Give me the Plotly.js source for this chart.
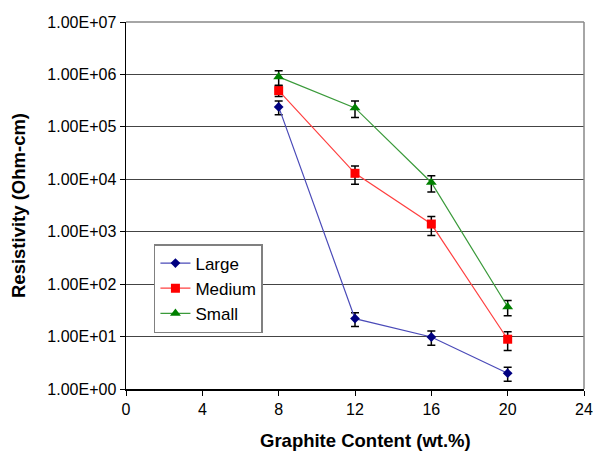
<!DOCTYPE html>
<html>
<head>
<meta charset="utf-8">
<script src="https://cdn.plot.ly/plotly-3.0.1.min.js"></script>
<style>html,body{margin:0;padding:0;background:#fff;}#chart{width:593px;height:452px;}</style>
</head>
<body>
<div id="chart"></div>
<script>
const graphite = [8, 12, 16, 20];
const largeVals = [2.4e5, 22, 9.8, 2.0];
const largeErr = [0.7e5, 6.5, 3, 0.6];
const mediumVals = [4.9e5, 1.3e4, 1.4e3, 8.9];
const mediumErr = [1.1e5, 5e3, 0.55e3, 3.5];
const smallVals = [9.0e5, 2.3e5, 8.7e3, 37];
const smallErr = [2.8e5, 0.8e5, 3e3, 12];
const yTickVals = [1, 10, 100, 1000, 1e4, 1e5, 1e6, 1e7];
const yTickText = ['1.00E+00','1.00E+01','1.00E+02','1.00E+03','1.00E+04','1.00E+05','1.00E+06','1.00E+07'];
const xTickVals = [0, 4, 8, 12, 16, 20, 24];

function errBar(arr){
  return {type:'data', array:arr, arrayminus:arr, visible:true, color:'#000', thickness:1.5, width:4};
}
const traces = [
  {x:graphite, y:largeVals, name:'Large', mode:'lines+markers', type:'scatter',
   line:{color:'#4a4ab8', width:1.2}, marker:{symbol:'diamond', color:'#000080', size:7.5},
   error_y:errBar(largeErr)},
  {x:graphite, y:mediumVals, name:'Medium', mode:'lines+markers', type:'scatter',
   line:{color:'#ff4040', width:1.2}, marker:{symbol:'square', color:'#ff0000', size:9},
   error_y:errBar(mediumErr)},
  {x:graphite, y:smallVals, name:'Small', mode:'lines+markers', type:'scatter',
   line:{color:'#3a9a3a', width:1.2}, marker:{symbol:'triangle-up', color:'#008000', size:9.5},
   error_y:errBar(smallErr)}
];
const layout = {
  width:593, height:452,
  margin:{l:126, r:9, t:22, b:63},
  paper_bgcolor:'#fff', plot_bgcolor:'#fff',
  font:{family:'Liberation Sans, Arial, sans-serif', size:16, color:'#000'},
  showlegend:true,
  legend:{x:0.061, y:0.395, xanchor:'left', yanchor:'top', bgcolor:'#fff',
    bordercolor:'#808080', borderwidth:1.5, font:{size:17}, tracegroupgap:0},
  xaxis:{range:[0,24], tickvals:xTickVals, ticks:'outside', ticklen:5, tickcolor:'#000',
    showgrid:false, zeroline:false, showline:true, linecolor:'#000', linewidth:1.5,
    mirror:false, tickfont:{size:16}},
  yaxis:{type:'log', range:[0,7], tickvals:yTickVals, ticktext:yTickText,
    ticks:'outside', ticklen:5, tickcolor:'#000', showgrid:true, gridcolor:'#444', gridwidth:1,
    zeroline:false, showline:true, linecolor:'#000', linewidth:1.5, tickfont:{size:16},
    title:{text:'<b>Resistivity (Ohm-cm)</b>', font:{size:18.5}, standoff:17}},
  annotations:[
    {text:'<b>Graphite Content (wt.%)</b>', xref:'paper', yref:'paper', x:0.522, y:-0.139,
     xanchor:'center', yanchor:'middle', showarrow:false, font:{size:18.5}, borderpad:0}
  ],
  shapes:[
    {type:'line', xref:'paper', yref:'paper', x0:0, x1:1, y0:1, y1:1, line:{color:'#888', width:1.5}},
    {type:'line', xref:'paper', yref:'paper', x0:1, x1:1, y0:0, y1:1, line:{color:'#888', width:1.5}}
  ]
};
Plotly.newPlot('chart', traces, layout, {staticPlot:true, displayModeBar:false});
</script>
</body>
</html>
